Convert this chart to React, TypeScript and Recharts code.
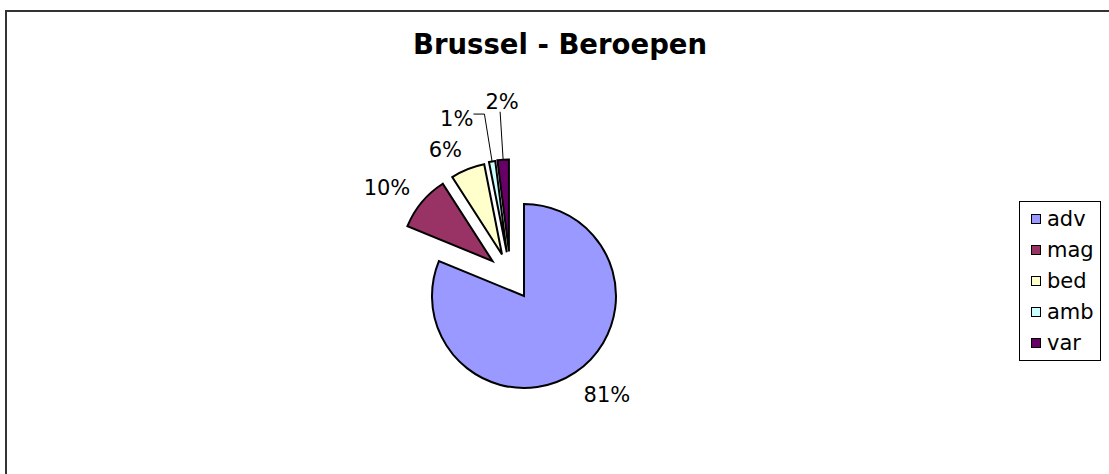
import { PieChart, Pie, Cell, Sector, Legend } from "recharts";

const categories = ["adv", "mag", "bed", "amb", "var"];
const shares = [81.2, 9.7, 6.0, 1.1, 2.0];
const colors = ["#9999FF", "#993366", "#FFFFCC", "#CCFFFF", "#660066"];
const exploded = ["mag", "bed", "amb", "var"];
// small slices get their label pulled out on a leader line
const leaderStyle: Record<string, "above" | "left"> = { amb: "left", var: "above" };

const data = categories.map((name, i) => ({ name, value: shares[i] }));

const FONT = "'DejaVu Sans', Verdana, sans-serif";
const FS = 21;
const START = 90;
const RADIUS = 92;
const EXPLODE = 47;
const GAP = 15;
const LEADER = 48;
const RAD = Math.PI / 180;

// exploded slices move half along their own bisector, half along the bisector of the whole exploded group
const total = shares.reduce((a, b) => a + b, 0);
const keptShare = shares.filter((_, i) => !exploded.includes(categories[i])).reduce((a, b) => a + b, 0);
const groupMid = (START - (360 * keptShare) / total + (START - 360)) / 2;

const clamp = (v: number) => Math.max(-1, Math.min(1, v * 3));

function renderSlice(props: any) {
  const { cx, cy, midAngle, startAngle, endAngle, outerRadius, percent, index } = props;
  const name = categories[index];
  const isOut = exploded.includes(name);
  const shift = ((midAngle + groupMid) / 2) * RAD;
  const ox = cx + (isOut ? EXPLODE * Math.cos(shift) : 0);
  const oy = cy - (isOut ? EXPLODE * Math.sin(shift) : 0);
  const dx = Math.cos(midAngle * RAD);
  const dy = -Math.sin(midAngle * RAD);
  const text = `${Math.round(percent * 100)}%`;
  const leader = leaderStyle[name];
  const textProps = { fontFamily: FONT, fontSize: FS, fill: "#000" };

  let label;
  if (leader) {
    const ax = ox + outerRadius * dx;
    const ay = oy + outerRadius * dy;
    const ex = ox + (outerRadius + LEADER) * dx;
    const ey = oy + (outerRadius + LEADER) * dy;
    label =
      leader === "above" ? (
        <g>
          <line x1={ax} y1={ay} x2={ex} y2={ey} stroke="#000" strokeWidth={1} />
          <text x={ex + 2} y={ey - 3} textAnchor="middle" {...textProps}>{text}</text>
        </g>
      ) : (
        <g>
          <polyline points={`${ax},${ay} ${ex},${ey} ${ex - 11},${ey}`} fill="none" stroke="#000" strokeWidth={1} />
          <text x={ex - 11} y={ey + 12} textAnchor="end" {...textProps}>{text}</text>
        </g>
      );
  } else {
    const px = ox + (outerRadius + GAP) * dx;
    const py = oy + (outerRadius + GAP) * dy;
    const w = FS * (0.636 * (text.length - 1) + 0.95);
    const h = FS * 0.73;
    label = (
      <text x={px + (clamp(dx) * w) / 2} y={py + (clamp(dy) * h) / 2 + h / 2 + 2} textAnchor="middle" {...textProps}>
        {text}
      </text>
    );
  }

  return (
    <g>
      {isOut && (
        <Sector
          cx={ox}
          cy={oy}
          innerRadius={0}
          outerRadius={outerRadius}
          startAngle={startAngle}
          endAngle={endAngle}
          fill={colors[index]}
          stroke="#000"
          strokeWidth={2}
        />
      )}
      {label}
    </g>
  );
}

function LegendBox({ payload }: any) {
  const items = [...(payload ?? [])].sort(
    (a: any, b: any) => categories.indexOf(a.value) - categories.indexOf(b.value)
  );
  return (
    <div
      style={{
        border: "1px solid #000",
        padding: "2px 0 2px 11px",
        fontFamily: FONT,
        fontSize: FS,
        background: "#fff",
        color: "#000",
      }}
    >
      {items.map((entry: any) => (
        <div key={entry.value} style={{ display: "flex", alignItems: "center", height: 30.8 }}>
          <span
            style={{
              display: "block",
              width: 8,
              height: 8,
              border: "1.5px solid #000",
              background: colors[categories.indexOf(entry.value)],
              marginRight: 6,
            }}
          />
          <span>{entry.value}</span>
        </div>
      ))}
    </div>
  );
}

export default function App() {
  return (
    <div style={{ position: "relative", width: 1109, height: 474, overflow: "hidden", background: "#fff" }}>
      <style>{"body{margin:0;overflow:hidden}"}</style>
      <div
        style={{
          position: "absolute",
          left: 5,
          top: 10,
          width: 2000,
          height: 2000,
          borderLeft: "2px solid #333",
          borderTop: "2px solid #333",
        }}
      />
      <svg style={{ position: "absolute", left: 0, top: 0 }} width={1109} height={80}>
        <text x={560} y={54} textAnchor="middle" fontFamily={FONT} fontSize={27.5} fontWeight="bold" fill="#000">
          Brussel - Beroepen
        </text>
      </svg>
      <div style={{ position: "absolute", left: 0, top: 0 }}>
        <PieChart width={1109} height={474} margin={{ top: 0, right: 0, bottom: 0, left: 0 }}>
          <Pie
            data={data}
            dataKey="value"
            nameKey="name"
            cx={524}
            cy={296}
            outerRadius={RADIUS}
            startAngle={START}
            endAngle={START - 360}
            label={renderSlice}
            labelLine={false}
            isAnimationActive={false}
          >
            {data.map((d, i) =>
              exploded.includes(d.name) ? (
                <Cell key={d.name} fill="none" stroke="none" />
              ) : (
                <Cell key={d.name} fill={colors[i]} stroke="#000" strokeWidth={2} />
              )
            )}
          </Pie>
          <Legend
            layout="vertical"
            align="right"
            verticalAlign="top"
            wrapperStyle={{ left: 1019, top: 201, width: 82 }}
            content={LegendBox}
          />
        </PieChart>
      </div>
    </div>
  );
}
